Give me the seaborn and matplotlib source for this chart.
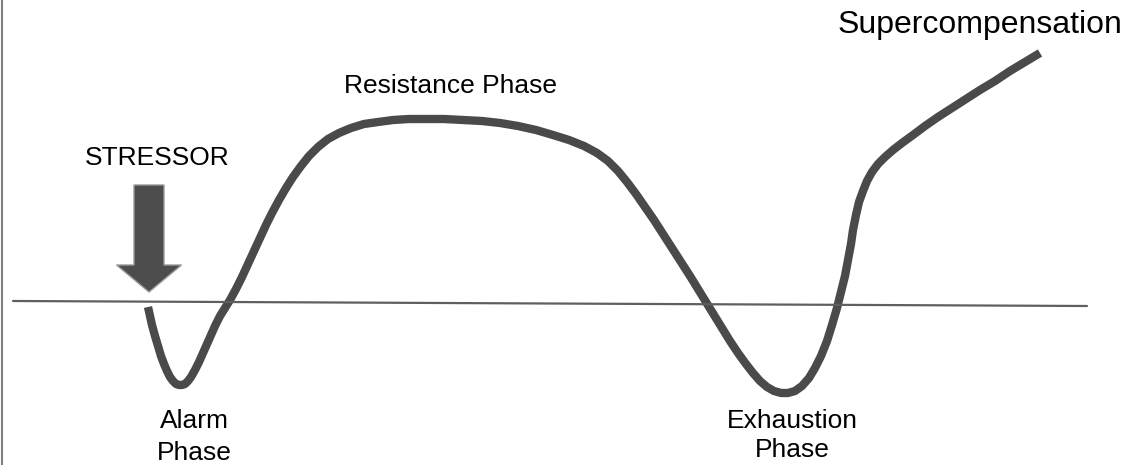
import pandas as pd
import matplotlib.pyplot as plt
import seaborn as sns

# curve (pixel coords, y grows downward)
curve_x = [148, 150, 152, 155, 158, 161, 164, 167, 170, 173, 176, 179, 182, 185,
           188, 191, 195, 199, 203, 207, 211, 215, 220, 225, 230,
           236, 242, 248, 254, 260, 266, 272, 279, 286, 293, 301, 309, 318, 328,
           339, 351, 364, 378, 393, 409, 426, 444, 463,
           482, 500, 518, 536, 553, 569, 584, 597, 608, 618, 627, 636, 645,
           654, 663, 672, 681, 690, 698, 706, 714, 722, 730, 738, 746, 753,
           760, 767, 774, 781, 788, 795, 802, 809, 815, 821, 827, 832, 837,
           841, 845, 848, 851, 853, 856, 859, 863, 867, 872, 878, 885, 893,
           902, 913, 925, 938, 952, 966, 980, 995, 1010, 1025, 1040]
curve_y = [307, 316, 325, 336, 346, 356, 364, 371, 377, 381, 384, 385, 385, 384,
           381, 377, 370, 362, 353, 344, 335, 326, 316, 308, 300,
           289, 277, 264, 251, 238, 225, 213, 200, 188, 177, 166, 156, 147, 139,
           133, 128, 124, 122, 120, 119, 119, 119, 120,
           121, 123, 126, 130, 135, 140, 146, 153, 161, 171, 182, 194, 207,
           220, 234, 248, 262, 276, 289, 302, 315, 328, 341, 353, 364, 373,
           381, 387, 391, 393, 393, 391, 386, 378, 368, 356, 341, 325, 308,
           292, 276, 260, 244, 230, 215, 202, 191, 181, 172, 164, 157, 150,
           143, 135, 126, 117, 108, 99, 90, 81, 71, 62, 53]

base_x = [13, 1087]
base_y = [301, 306]

arrow_x = 149
arrow_top = 185
arrow_tip = 292

labels = ["STRESSOR", "Resistance Phase", "Alarm", "Phase", "Exhaustion", "Phase",
          "Supercompensation"]
label_x = [157, 451, 194, 194, 792, 792, 980]
label_y = [165, 93, 428, 460, 428, 457, 33]
label_size = [19, 19, 19, 19, 19, 19, 23]

sns.set_style("white")
plt.rcParams['font.family'] = ['Liberation Sans', 'DejaVu Sans']

fig = plt.figure(figsize=(11.4, 4.65), dpi=100)
ax = fig.add_axes([0, 0, 1, 1])

df = pd.DataFrame({"x": curve_x, "y": curve_y})
sns.lineplot(x="x", y="y", data=df, sort=False, estimator=None, ax=ax,
             color="#4a4a4a", linewidth=6, solid_capstyle="butt",
             solid_joinstyle="round")

ax.plot(base_x, base_y, color="#5f5f5f", linewidth=1.6)
ax.axvline(1.5, color="#808080", linewidth=1.5)

ax.arrow(arrow_x, arrow_top, 0, arrow_tip - arrow_top, width=30, head_width=65,
         head_length=27, length_includes_head=True, fc="#4d4d4d", ec="#9a9a9a",
         linewidth=1)

for t, x, y, s in zip(labels, label_x, label_y, label_size):
    ax.text(x, y, t, ha="center", va="baseline", fontsize=s, color="black")

ax.set_xlim(0, 1140)
ax.set_ylim(465, 0)
ax.axis("off")
fig.savefig("out.png", dpi=100)
